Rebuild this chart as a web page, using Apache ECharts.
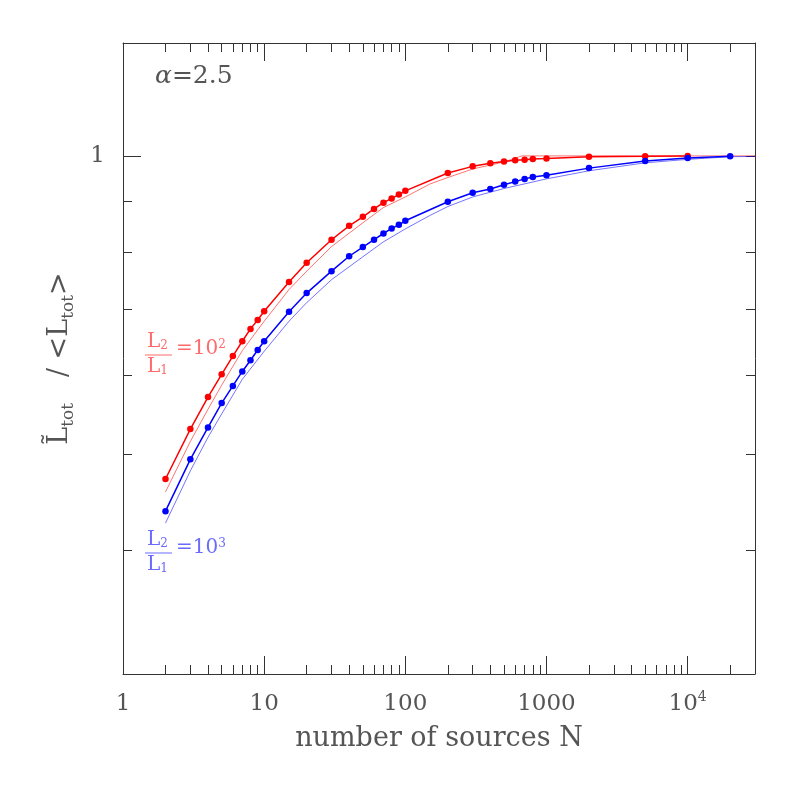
<!DOCTYPE html>
<html>
<head>
<meta charset="utf-8">
<script src="https://cdn.jsdelivr.net/npm/echarts@6/dist/echarts.min.js"></script>
<style>
html,body{margin:0;background:#fff}
#main{width:797px;height:797px}
</style>
</head>
<body>
<div id="main"></div>
<script>
// simulated points (dots), L2/L1 = 10^2
var nRed = [2,3,4,5,6,7,8,9,10,15,20,30,40,50,60,70,80,90,100,200,300,400,500,600,700,800,1000,2000,5000,10000];
var redSim = [0.472,0.530,0.571,0.602,0.628,0.650,0.669,0.683,0.697,0.746,0.780,0.823,0.850,0.868,0.884,0.897,0.906,0.914,0.922,0.961,0.976,0.983,0.987,0.990,0.991,0.993,0.994,0.998,0.999,1.0];
// simulated points, L2/L1 = 10^3
var nBlue = [2,3,4,5,6,7,8,9,10,15,20,30,40,50,60,70,80,90,100,200,300,400,500,600,700,800,1000,2000,5000,10000,20000];
var blueSim = [0.438,0.494,0.532,0.563,0.586,0.606,0.622,0.637,0.650,0.696,0.727,0.765,0.792,0.809,0.823,0.835,0.845,0.852,0.860,0.899,0.918,0.926,0.935,0.942,0.948,0.952,0.956,0.972,0.988,0.995,0.999];
// analytic curves (thin lines)
var nRedCurve = [2,3,4,5,7,10,15,20,30,50,70,100,150,200,300,400,500,670,30000];
var redCurve = [0.458,0.515,0.555,0.587,0.636,0.681,0.733,0.765,0.810,0.856,0.887,0.909,0.937,0.951,0.970,0.979,0.986,1.0,1.0];
var nBlueCurve = [2,3,4,5,7,10,15,20,30,50,70,100,150,200,300,500,1000,2000,5000,10000,20000,30000];
var blueCurve = [0.426,0.481,0.520,0.549,0.595,0.635,0.681,0.711,0.750,0.791,0.819,0.844,0.871,0.889,0.909,0.927,0.948,0.966,0.984,0.992,0.998,0.999];

var xMajor = [1,10,100,1000,10000];
var xMinor = [2,3,4,5,6,7,8,9,20,30,40,50,60,70,80,90,200,300,400,500,600,700,800,900,2000,3000,4000,5000,6000,7000,8000,9000,20000];
var yMajor = [1];
var yMinor = [0.4,0.5,0.6,0.7,0.8,0.9];

var FONT = 'DejaVu Serif';
var TXT = '#555';
var AX = '#333';

function pairs(xs, ys) {
    return xs.map(function (x, i) { return [x, ys[i]]; });
}

function xAxisDef(pos, ticks, len, main) {
    return {
        type: 'log', min: 1, max: 30000, position: pos,
        axisLine: {show: main, lineStyle: {color: AX, width: 1}},
        axisTick: {show: true, inside: true, length: len, customValues: ticks, lineStyle: {color: AX}},
        axisLabel: {show: false},
        splitLine: {show: false}
    };
}
function yAxisDef(pos, ticks, len, main) {
    return {
        type: 'log', min: 0.3, max: 1.3, position: pos,
        axisLine: {show: main, lineStyle: {color: AX, width: 1}},
        axisTick: {show: true, inside: true, length: len, customValues: ticks, lineStyle: {color: AX}},
        axisLabel: {show: false},
        splitLine: {show: false}
    };
}

var xBottom = xAxisDef('bottom', xMajor, 18, true);
xBottom.axisLabel = {
    show: true, customValues: xMajor, margin: 16,
    fontFamily: FONT, fontSize: 23, color: TXT, lineHeight: 28,
    formatter: function (v) { return v >= 10000 ? '10{p|4}' : String(v); },
    rich: {p: {fontFamily: FONT, fontSize: 14, color: TXT, verticalAlign: 'top', lineHeight: 14}}
};
xBottom.name = 'number of sources N';
xBottom.nameLocation = 'middle';
xBottom.nameGap = 51;
xBottom.nameTextStyle = {fontFamily: FONT, fontSize: 27, color: TXT};

var yLeft = yAxisDef('left', yMajor, 18, true);
yLeft.axisLabel = {
    show: true, customValues: yMajor, margin: 18,
    fontFamily: FONT, fontSize: 23, color: TXT,
    formatter: function (v) { return String(Math.round(v)); }
};
yLeft.name = '{t|L\u0303}{s|tot}{n|   / }{t|<L}{s|tot}{t|>}';
yLeft.nameLocation = 'middle';
yLeft.nameRotate = 90;
yLeft.nameGap = 46;
yLeft.nameTextStyle = {
    fontFamily: FONT, fontSize: 26, color: TXT,
    rich: {
        t: {fontFamily: FONT, fontSize: 27, color: TXT, lineHeight: 34},
        n: {fontFamily: FONT, fontSize: 27, color: TXT, lineHeight: 34},
        s: {fontFamily: FONT, fontSize: 17, color: TXT, lineHeight: 22, verticalAlign: 'bottom'}
    }
};

var option = {
    animation: false,
    backgroundColor: '#fff',
    grid: {left: 123, right: 42, top: 43, bottom: 123},
    xAxis: [
        xBottom,
        xAxisDef('bottom', xMinor, 9, false),
        xAxisDef('top', xMajor, 18, true),
        xAxisDef('top', xMinor, 9, false)
    ],
    yAxis: [
        yLeft,
        yAxisDef('left', yMinor, 9, false),
        yAxisDef('right', yMinor.concat([1]), 9, true)
    ],
    graphic: [
        {
            type: 'text', left: 155, top: 64,
            style: {
                text: '{a|\u03b1}=2.5', fontFamily: FONT, fontSize: 25, fill: TXT,
                rich: {a: {fontFamily: FONT, fontSize: 25, fontStyle: 'italic', fill: TXT}}
            }
        },
        // L2/L1 = 10^2 (red)
        {type: 'text', x: 147, y: 352, style: {text: 'L{s|2}', fontFamily: FONT, fontSize: 20, fill: '#ff6a6a', verticalAlign: 'bottom', rich: {s: {fontFamily: FONT, fontSize: 12, fill: '#ff6a6a', verticalAlign: 'bottom'}}}},
        {type: 'line', shape: {x1: 145, y1: 355, x2: 172, y2: 355}, style: {stroke: '#ff6a6a', lineWidth: 1}},
        {type: 'text', x: 147, y: 357, style: {text: 'L{s|1}', fontFamily: FONT, fontSize: 20, fill: '#ff6a6a', verticalAlign: 'top', rich: {s: {fontFamily: FONT, fontSize: 12, fill: '#ff6a6a', verticalAlign: 'bottom'}}}},
        {type: 'text', x: 176, y: 349, style: {text: '=10{p|2}', fontFamily: FONT, fontSize: 20, fill: '#ff6a6a', verticalAlign: 'middle', rich: {p: {fontFamily: FONT, fontSize: 12, fill: '#ff6a6a', verticalAlign: 'top'}}}},
        // L2/L1 = 10^3 (blue)
        {type: 'text', x: 147, y: 550, style: {text: 'L{s|2}', fontFamily: FONT, fontSize: 20, fill: '#6a6aff', verticalAlign: 'bottom', rich: {s: {fontFamily: FONT, fontSize: 12, fill: '#6a6aff', verticalAlign: 'bottom'}}}},
        {type: 'line', shape: {x1: 145, y1: 553, x2: 172, y2: 553}, style: {stroke: '#6a6aff', lineWidth: 1}},
        {type: 'text', x: 147, y: 555, style: {text: 'L{s|1}', fontFamily: FONT, fontSize: 20, fill: '#6a6aff', verticalAlign: 'top', rich: {s: {fontFamily: FONT, fontSize: 12, fill: '#6a6aff', verticalAlign: 'bottom'}}}},
        {type: 'text', x: 176, y: 548, style: {text: '=10{p|3}', fontFamily: FONT, fontSize: 20, fill: '#6a6aff', verticalAlign: 'middle', rich: {p: {fontFamily: FONT, fontSize: 12, fill: '#6a6aff', verticalAlign: 'top'}}}}
    ],
    series: [
        {
            name: 'curve 10^2', type: 'line', data: pairs(nRedCurve, redCurve),
            showSymbol: false, symbol: 'none',
            lineStyle: {color: 'rgba(255,0,0,0.55)', width: 1}
        },
        {
            name: 'curve 10^3', type: 'line', data: pairs(nBlueCurve, blueCurve),
            showSymbol: false, symbol: 'none',
            lineStyle: {color: 'rgba(0,0,255,0.55)', width: 1}
        },
        {
            name: 'sim 10^2', type: 'line', data: pairs(nRed, redSim),
            symbol: 'circle', symbolSize: 6.5,
            itemStyle: {color: '#ff0000'},
            lineStyle: {color: '#ff0000', width: 1.5}
        },
        {
            name: 'sim 10^3', type: 'line', data: pairs(nBlue, blueSim),
            symbol: 'circle', symbolSize: 6.5,
            itemStyle: {color: '#0000ff'},
            lineStyle: {color: '#0000ff', width: 1.5}
        }
    ]
};

var myChart = echarts.init(document.getElementById('main'));
myChart.setOption(option);
</script>
</body>
</html>
